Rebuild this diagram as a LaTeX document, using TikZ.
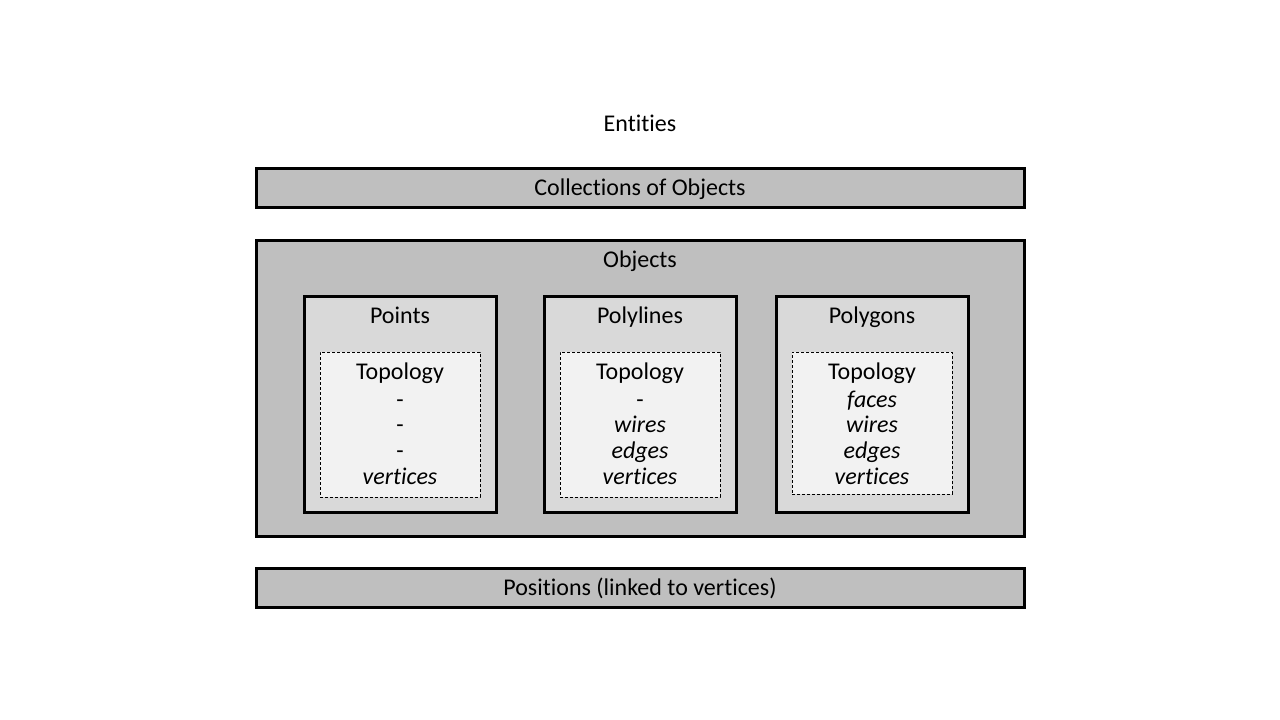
\documentclass[tikz,border=0pt]{standalone}
\usepackage{fontspec}
\setmainfont{Carlito}[Ligatures={NoCommon}]
\definecolor{gOuter}{HTML}{BFBFBF}
\definecolor{gMid}{HTML}{D9D9D9}
\definecolor{gIn}{HTML}{F2F2F2}
\begin{document}
\begin{tikzpicture}[x=1pt,y=-1pt,
  box/.style={draw=black,line width=3pt,rectangle,inner sep=0pt},
  outerbox/.style={box,fill=gOuter},
  midbox/.style={box,fill=gMid},
  topobox/.style={draw=black,line width=0.9pt,dash pattern=on 3pt off 2pt,fill=gIn,rectangle,inner sep=0pt},
  txt/.style={font=\fontsize{24}{26}\selectfont,inner sep=0pt,anchor=base},
  itx/.style={txt,font=\fontsize{24}{26}\selectfont\itshape}]
\useasboundingbox (0,0) rectangle (1280,720);
\fill[white] (0,0) rectangle (1280,720);

\node[txt] (ent) at (640,131) {Entities};

\node[outerbox,minimum width=768pt,minimum height=39pt] (coll) at (640,187.5) {};
\node[txt] (collt) at (640,195) {Collections of Objects};

\node[outerbox,minimum width=768pt,minimum height=296pt] (obj) at (640,388) {};
\node[txt] (objt) at (640,267) {Objects};

\node[outerbox,minimum width=768pt,minimum height=39pt] (pos) at (640,587.5) {};
\node[txt] (post) at (640,595) {Positions (linked to vertices)};

% Points
\node[midbox,minimum width=192pt,minimum height=216pt] (pts) at (400,404) {};
\node[txt] (ptst) at (400,323) {Points};
\node[topobox,minimum width=160pt,minimum height=145pt] (ptsb) at (400,424.5) {};
\node[txt] (pts0) at (400,379) {Topology};
\node[txt] (pts1) at (400,407) {-};
\node[txt] (pts2) at (400,432) {-};
\node[txt] (pts3) at (400,458) {-};
\node[itx] (pts4) at (400,484) {vertices};

% Polylines
\node[midbox,minimum width=192pt,minimum height=216pt] (pl) at (640,404) {};
\node[txt] (plt) at (640,323) {Polylines};
\node[topobox,minimum width=160pt,minimum height=145pt] (plb) at (640,424.5) {};
\node[txt] (pl0) at (640,379) {Topology};
\node[txt] (pl1) at (640,407) {-};
\node[itx] (pl2) at (640,432) {wires};
\node[itx] (pl3) at (640,458) {edges};
\node[itx] (pl4) at (640,484) {vertices};

% Polygons
\node[midbox,minimum width=192pt,minimum height=216pt] (pg) at (872,404) {};
\node[txt] (pgt) at (872,323) {Polygons};
\node[topobox,minimum width=160pt,minimum height=142pt] (pgb) at (872,423) {};
\node[txt] (pg0) at (872,379) {Topology};
\node[itx] (pg1) at (872,407) {faces};
\node[itx] (pg2) at (872,432) {wires};
\node[itx] (pg3) at (872,458) {edges};
\node[itx] (pg4) at (872,484) {vertices};
\end{tikzpicture}
\end{document}
